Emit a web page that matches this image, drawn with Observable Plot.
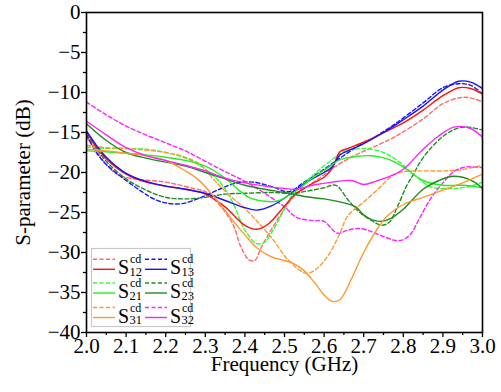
<!DOCTYPE html>
<html><head><meta charset="utf-8">
<script src="https://cdn.jsdelivr.net/npm/d3@7"></script>
<script src="https://cdn.jsdelivr.net/npm/@observablehq/plot@0.6"></script>
<style>
body{margin:0;background:#fff;}
#wrap{position:relative;width:501px;height:392px;overflow:hidden;}
#legend{position:absolute;left:0;top:0;pointer-events:none;}
</style></head><body><div id="wrap"></div>
<script>
// ---- tick values ----
const xTicks = [2.0,2.1,2.2,2.3,2.4,2.5,2.6,2.7,2.8,2.9,3.0];
const xMinor = [2.05,2.15,2.25,2.35,2.45,2.55,2.65,2.75,2.85,2.95];
const yTicks = [0,-5,-10,-15,-20,-25,-30,-35,-40];
const yMinor = [-2.5,-7.5,-12.5,-17.5,-22.5,-27.5,-32.5,-37.5];

// ---- series: [frequency (GHz), S (dB)] ----
const s12Solid = [[2.0,-15],[2.025,-16.8],[2.05,-18.3],[2.1,-20.2],[2.15,-21.2],[2.2,-21.7],[2.25,-22.1],[2.3,-22.7],[2.35,-24.3],[2.4,-26.6],[2.43,-27.1],[2.46,-26.4],[2.5,-24.2],[2.53,-22.6],[2.57,-21.4],[2.6,-20.6],[2.62,-19.5],[2.64,-17.4],[2.66,-17.0],[2.71,-16.0],[2.76,-14.8],[2.8,-13.8],[2.85,-12.2],[2.9,-10.4],[2.94,-9.4],[2.97,-9.5],[3.0,-10.2]];
const s12Dash = [[2.0,-15.6],[2.025,-17.3],[2.05,-19],[2.08,-20.3],[2.12,-20.8],[2.2,-21.2],[2.27,-22],[2.3,-22.4],[2.34,-24.3],[2.37,-26.5],[2.39,-29.3],[2.41,-30.9],[2.425,-31.0],[2.44,-29.5],[2.46,-27.7],[2.49,-25.3],[2.52,-23.2],[2.55,-22],[2.58,-21],[2.63,-19.2],[2.68,-17.8],[2.73,-16.7],[2.78,-15.5],[2.85,-13.3],[2.9,-11.4],[2.95,-10.6],[2.98,-10.8],[3.0,-11.2]];
const s13Solid = [[2.0,-14.8],[2.025,-16.6],[2.05,-18.1],[2.1,-20.1],[2.15,-21.1],[2.2,-21.7],[2.25,-22.1],[2.3,-22.6],[2.35,-23.5],[2.4,-24.4],[2.43,-24.7],[2.47,-24.1],[2.5,-23.2],[2.53,-22.1],[2.57,-20.8],[2.6,-20.0],[2.62,-19.3],[2.64,-17.8],[2.66,-17.3],[2.7,-16.4],[2.75,-15.0],[2.8,-13.4],[2.85,-11.7],[2.9,-9.7],[2.94,-8.6],[2.97,-8.7],[3.0,-9.5]];
const s13Dash = [[2.0,-15.3],[2.025,-17.5],[2.05,-19],[2.1,-21],[2.14,-22.4],[2.17,-23.3],[2.2,-23.8],[2.24,-23.9],[2.29,-23.1],[2.34,-22],[2.38,-21.3],[2.42,-21.2],[2.47,-21.8],[2.51,-22.4],[2.55,-21.2],[2.6,-19.6],[2.64,-18.2],[2.68,-16.9],[2.73,-15.5],[2.78,-13.9],[2.85,-11.3],[2.9,-9.4],[2.94,-8.9],[2.97,-9.1],[3.0,-10.2]];
const s21Solid = [[2.0,-17.3],[2.05,-17.4],[2.1,-17.6],[2.15,-17.8],[2.2,-18.1],[2.25,-18.5],[2.3,-19.2],[2.35,-20.7],[2.38,-22],[2.41,-23.1],[2.45,-23.6],[2.48,-23.6],[2.51,-22.9],[2.54,-21.9],[2.57,-20.7],[2.61,-19.4],[2.64,-18.4],[2.68,-18],[2.72,-17.9],[2.76,-18.3],[2.8,-19.3],[2.85,-21],[2.9,-21.6],[2.95,-21.6],[3.0,-21.9]];
const s21Dash = [[2.0,-16.8],[2.05,-17],[2.1,-17],[2.15,-17.1],[2.2,-17.5],[2.25,-18.2],[2.3,-19.6],[2.34,-21.4],[2.37,-23.8],[2.4,-27.2],[2.43,-28.9],[2.45,-28.7],[2.47,-27.3],[2.49,-25.5],[2.52,-22.8],[2.55,-21.3],[2.58,-20],[2.62,-18.4],[2.65,-17.4],[2.7,-17],[2.75,-17.5],[2.79,-18.7],[2.83,-20.4],[2.87,-21.8],[2.93,-22],[2.97,-21.7],[3.0,-21.2]];
const s23Solid = [[2.0,-13.9],[2.05,-16],[2.1,-17.5],[2.15,-18.2],[2.2,-18.7],[2.25,-19.2],[2.3,-20.0],[2.35,-20.8],[2.4,-21.6],[2.45,-22.1],[2.5,-22.5],[2.55,-23],[2.6,-23.3],[2.65,-23.8],[2.68,-24.3],[2.7,-25.3],[2.72,-25.9],[2.745,-26.1],[2.77,-25.7],[2.8,-24.6],[2.85,-22.1],[2.89,-21],[2.92,-20.5],[2.95,-20.6],[2.98,-21.2],[3.0,-22]];
const s23Dash = [[2.0,-15.2],[2.025,-17],[2.05,-18.6],[2.1,-20.8],[2.15,-22.2],[2.2,-23.1],[2.25,-23.3],[2.3,-23.1],[2.35,-22.7],[2.4,-22.6],[2.47,-22.5],[2.52,-22.6],[2.56,-22.3],[2.6,-21.9],[2.63,-21.6],[2.66,-23.4],[2.69,-25],[2.72,-26],[2.745,-26.6],[2.765,-26.2],[2.785,-24.3],[2.81,-21.5],[2.825,-20.3],[2.84,-18.9],[2.865,-17.2],[2.9,-15.5],[2.93,-14.6],[2.96,-14.3],[3.0,-14.7]];
const s31Solid = [[2.0,-17.1],[2.05,-17.3],[2.1,-17.6],[2.15,-17.9],[2.2,-18.5],[2.25,-19.8],[2.28,-20.8],[2.32,-22.9],[2.36,-25.4],[2.4,-27.8],[2.43,-29.4],[2.465,-30.5],[2.5,-31],[2.52,-31.3],[2.55,-32.3],[2.575,-33.7],[2.6,-35.3],[2.62,-36.1],[2.64,-35.9],[2.67,-33.2],[2.7,-30],[2.735,-27],[2.76,-25.4],[2.8,-24],[2.85,-23.1],[2.9,-22.2],[2.95,-21.3],[3.0,-20.2]];
const s31Dash = [[2.0,-16.6],[2.05,-16.9],[2.1,-17],[2.15,-17.2],[2.2,-17.5],[2.25,-18.1],[2.29,-19.1],[2.32,-20.8],[2.36,-22.8],[2.4,-24.5],[2.44,-26.6],[2.47,-28.3],[2.5,-30.4],[2.53,-31.9],[2.555,-32.6],[2.58,-32.1],[2.61,-30.4],[2.64,-27.6],[2.66,-25.4],[2.7,-23.7],[2.74,-21.9],[2.77,-20.5],[2.8,-19.9],[2.85,-19.8],[2.9,-19.8],[2.94,-19.7],[3.0,-19.1]];
const s32Solid = [[2.0,-13.6],[2.05,-15.3],[2.1,-16.9],[2.15,-17.9],[2.2,-18.5],[2.25,-19.1],[2.3,-19.8],[2.35,-20.7],[2.4,-21.3],[2.45,-21.7],[2.5,-22],[2.53,-22.1],[2.57,-21.6],[2.62,-21.2],[2.67,-21],[2.7,-21.5],[2.73,-21.1],[2.77,-20.4],[2.8,-19.6],[2.85,-17.1],[2.89,-15.4],[2.93,-14.3],[2.97,-14.5],[3.0,-15.6]];
const s32Dash = [[2.0,-11.2],[2.05,-12.8],[2.1,-14.2],[2.15,-15.3],[2.2,-16.3],[2.25,-17.3],[2.3,-18.6],[2.35,-19.9],[2.4,-21.1],[2.45,-22.6],[2.5,-24.3],[2.53,-25.6],[2.57,-26],[2.6,-26.1],[2.62,-27.1],[2.635,-27.6],[2.66,-27.2],[2.69,-27],[2.72,-27.4],[2.75,-28],[2.78,-28.5],[2.8,-28.4],[2.82,-27.6],[2.84,-25.8],[2.87,-23.2],[2.9,-21.3],[2.93,-19.8],[2.96,-19.3],[3.0,-19.4]];

// ---- series meta ----
const seriesNames = ["12","13","21","23","31","32"];
const solidColors = ["#ff1010","#1414ff","#22ee22","#1f8c1f","#ff9830","#ff22ff"];
const dashColors  = ["#ff6a6a","#1414ff","#33ff33","#1f8c1f","#ff9830","#ff22ff"];
const solidData = [s12Solid,s13Solid,s21Solid,s23Solid,s31Solid,s32Solid];
const dashData  = [s12Dash,s13Dash,s21Dash,s23Dash,s31Dash,s32Dash];
const legendOrder = ["12","21","31","13","23","32"]; // column-major, 3 rows

function rows(list, colors){
  const out=[];
  list.forEach((arr,i)=>arr.forEach(([f,db])=>out.push({series:seriesNames[i],f,db,color:colors[i]})));
  return out;
}
const solidRows = rows(solidData, solidColors);
const dashRows = rows(dashData, dashColors);

const fmtY = d => d === 0 ? "0" : "\u2212" + Math.abs(d);
const font = "Liberation Serif";
const txt = {fontFamily:font, fontSize:21};

const plot = Plot.plot({
  width:501, height:392,
  marginLeft:86, marginRight:19, marginTop:12, marginBottom:60,
  style:{fontFamily:font, fontSize:"21px", color:"#000", background:"#fff", overflow:"visible"},
  x:{domain:[2,3]},
  y:{domain:[-40,0]},
  marks:[
    Plot.line(dashRows,{x:"f",y:"db",z:"series",stroke:"color",strokeWidth:1.4,strokeDasharray:"4,2.5",curve:"catmull-rom",clip:true}),
    Plot.line(solidRows,{x:"f",y:"db",z:"series",stroke:"color",strokeWidth:1.4,curve:"catmull-rom",clip:true}),
    Plot.axisX(xMinor,{tickSize:3,strokeWidth:1.3,tickFormat:()=>"",label:null}),
    Plot.axisX(xTicks,{...txt,tickSize:5,strokeWidth:1.3,tickPadding:1,tickFormat:d3.format(".1f"),label:"Frequency (GHz)",labelAnchor:"center",labelOffset:38,labelArrow:"none"}),
    Plot.axisY(yMinor,{tickSize:3,strokeWidth:1.3,tickFormat:()=>"",label:null}),
    Plot.axisY(yTicks,{...txt,tickSize:5,strokeWidth:1.3,tickPadding:1,tickFormat:fmtY,label:"S-parameter (dB)",labelAnchor:"center",labelOffset:71,labelArrow:"none"}),
    Plot.frame({stroke:"#000",strokeWidth:1.6})
  ]
});
const wrap = document.getElementById("wrap");
wrap.appendChild(plot);
plot.querySelectorAll("text").forEach(t=>{t.style.fontFamily="'Liberation Serif', serif";});

// ---- legend (inside plot area, lower left) ----
const ns="http://www.w3.org/2000/svg";
const lg=document.createElementNS(ns,"svg");
lg.setAttribute("id","legend");lg.setAttribute("width",501);lg.setAttribute("height",392);
function el(tag,attrs,text){const e=document.createElementNS(ns,tag);for(const k in attrs)e.setAttribute(k,attrs[k]);if(text!=null)e.textContent=text;lg.appendChild(e);return e;}
el("rect",{x:91.5,y:248.5,width:99,height:78,fill:"#fff",stroke:"#c8c8c8","stroke-width":1.2});
const rowCenters=[264.3,288,312.5];
const colX=[93,145];
legendOrder.forEach((name,k)=>{
  const i=seriesNames.indexOf(name);
  const col=Math.floor(k/3), row=k%3;
  const x0=colX[col], cy=rowCenters[row];
  el("line",{x1:x0,x2:x0+22,y1:cy-5,y2:cy-5,stroke:dashColors[i],"stroke-width":1.4,"stroke-dasharray":"4,2.5"});
  el("line",{x1:x0,x2:x0+22,y1:cy+5,y2:cy+5,stroke:solidColors[i],"stroke-width":1.4});
  el("text",{x:x0+25,y:cy+10,"font-family":font,"font-size":20,fill:"#000"},"S");
  el("text",{x:x0+37,y:cy-1,"font-family":font,"font-size":12,fill:"#000"},"cd");
  el("text",{x:x0+36.5,y:cy+11.5,"font-family":font,"font-size":12.5,fill:"#000"},name);
});
wrap.appendChild(lg);
</script></body></html>
